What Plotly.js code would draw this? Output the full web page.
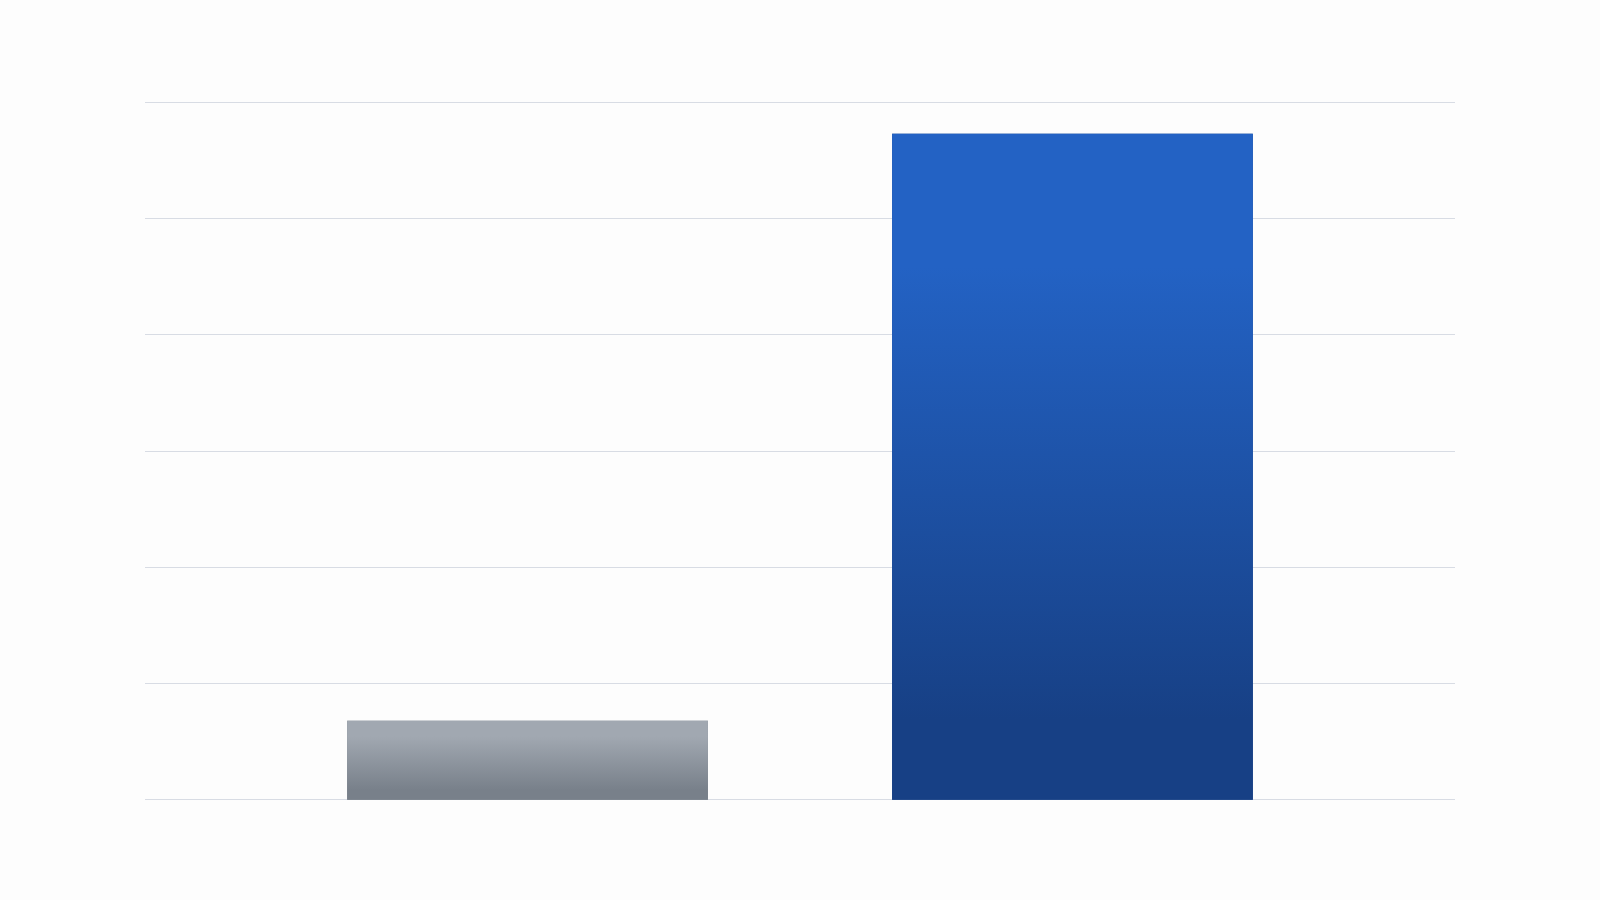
<!DOCTYPE html>
<html>
<head>
<meta charset="utf-8">
<script src="https://cdn.plot.ly/plotly-3.0.1.min.js"></script>
<style>
  html, body { margin: 0; padding: 0; background: #fdfdfd; }
  #chart { width: 1600px; height: 900px; }
</style>
</head>
<body>
<div id="chart"></div>
<script>
// values (no labels shown in the original)
const categories = [0, 1];
const values = [0.68, 5.73];
const topColors = ['#a1a8b1', '#2362c4'];
const bottomColors = ['#78808a', '#174085'];
const yTicks = [0, 1, 2, 3, 4, 5, 6];

const barWidth = 0.662;

// the bars themselves
const bars = {
  type: 'bar',
  x: categories,
  y: values,
  width: barWidth,
  marker: { color: bottomColors, line: { width: 0 } },
  hoverinfo: 'skip',
  showlegend: false
};

// gradient overlays, one per bar, built from the same arrays
const shades = categories.map((c, i) => {
  const half = barWidth / 2;
  return {
    type: 'scatter',
    mode: 'none',
    x: [c - half, c - half, c + half, c + half, c - half],
    y: [0, values[i], values[i], 0, 0],
    fill: 'toself',
    fillgradient: {
      type: 'vertical',
      colorscale: [
        [0, bottomColors[i]],
        [0.12, bottomColors[i]],
        [0.8, topColors[i]],
        [1, topColors[i]]
      ]
    },
    hoverinfo: 'skip',
    showlegend: false
  };
});

const layout = {
  width: 1600,
  height: 900,
  margin: { l: 145, r: 145, t: 100, b: 98 },
  paper_bgcolor: '#fdfdfd',
  plot_bgcolor: '#fdfdfd',
  showlegend: false,
  xaxis: {
    range: [-0.702, 1.702],
    showgrid: false,
    zeroline: false,
    showticklabels: false,
    showline: false,
    fixedrange: true
  },
  yaxis: {
    range: [-0.02, 6.02],
    tickvals: yTicks,
    showticklabels: false,
    gridcolor: '#d8dce4',
    gridwidth: 1,
    zeroline: false,
    showline: false,
    fixedrange: true
  }
};

Plotly.newPlot('chart', [bars, ...shades], layout, { displayModeBar: false, staticPlot: true });
</script>
</body>
</html>
